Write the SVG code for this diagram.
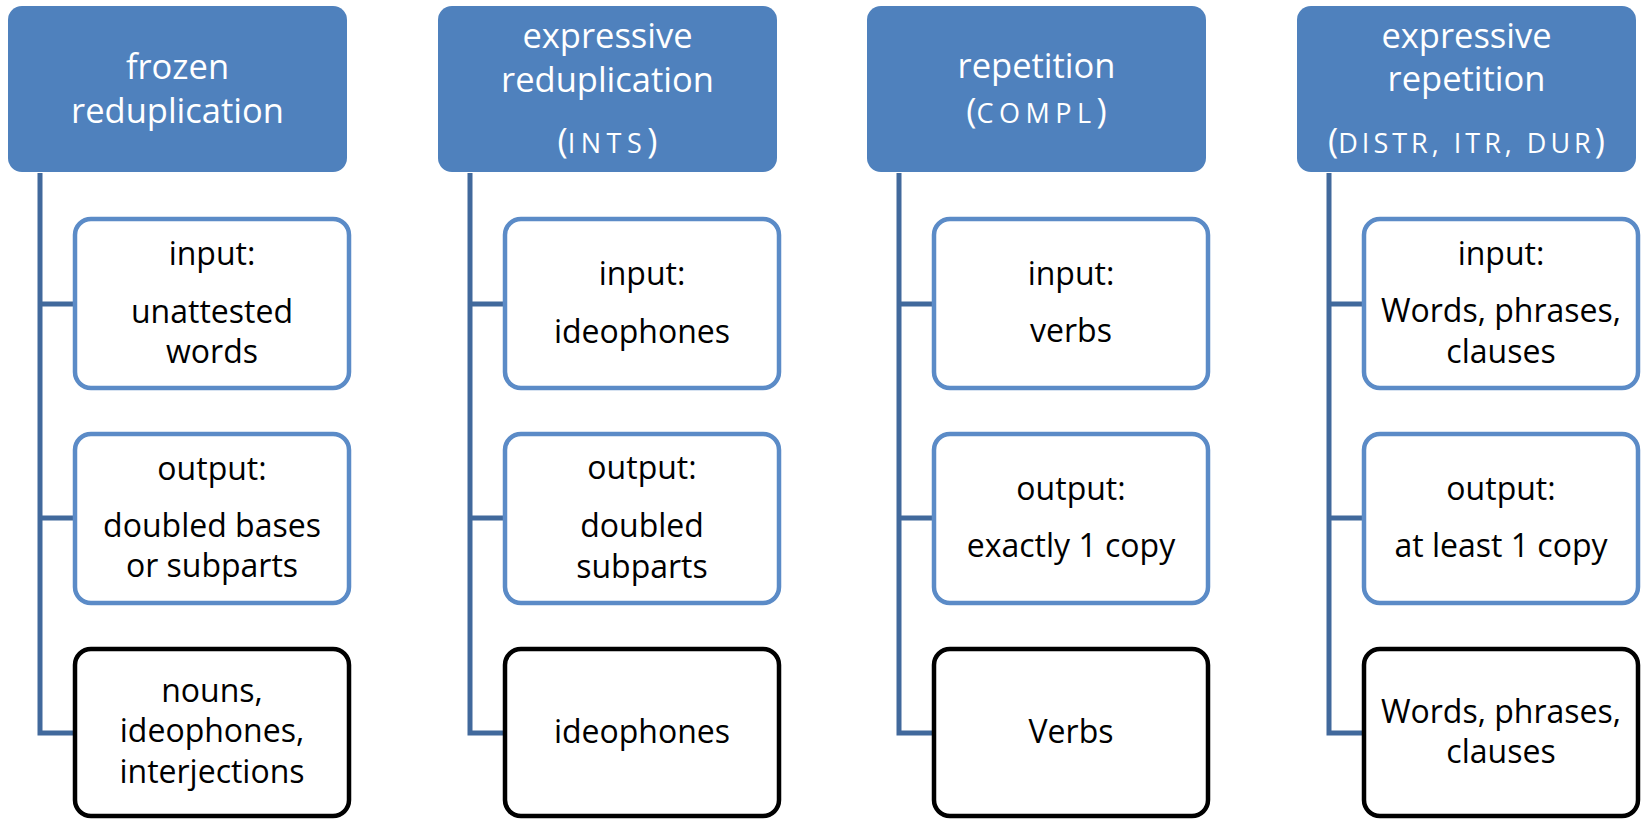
<svg xmlns="http://www.w3.org/2000/svg" width="1645" height="819" viewBox="0 0 1645 819">
<style>
.hdr{fill:#4F81BD}
.hdt{font-family:"Open Sans",sans-serif;font-size:34.5px;fill:#fff;text-anchor:middle}
.sc{font-size:27px;letter-spacing:4px}
.box{fill:#fff;stroke:#5B8BC7;stroke-width:4.5}
.blk{fill:#fff;stroke:#000;stroke-width:4.5}
.t{font-family:"Open Sans",sans-serif;font-size:32px;fill:#000;text-anchor:middle}
.con{fill:none;stroke:#41699C;stroke-width:5}
</style>
<rect width="1645" height="819" fill="#fff"/>
<g id="connectors">
<path class="con" d="M40 173 V733 H75 M40 304 H75 M40 518 H75"/>
<path class="con" d="M470 173 V733 H505 M470 304 H505 M470 518 H505"/>
<path class="con" d="M899 173 V733 H934 M899 304 H934 M899 518 H934"/>
<path class="con" d="M1329 173 V733 H1364 M1329 304 H1364 M1329 518 H1364"/>
</g>
<g id="h1"><rect class="hdr" x="8" y="6" width="339" height="166" rx="14"/>
<text class="hdt" x="177.5" y="79">frozen</text><text class="hdt" x="177.5" y="123">reduplication</text></g>
<g id="h2"><rect class="hdr" x="438" y="6" width="339" height="166" rx="14"/>
<text class="hdt" x="607.5" y="48">expressive</text><text class="hdt" x="607.5" y="92">reduplication</text>
<text class="hdt" x="607.5" y="153">(<tspan class="sc" style="letter-spacing:5.5px">INTS</tspan>)</text></g>
<g id="h3"><rect class="hdr" x="867" y="6" width="339" height="166" rx="14"/>
<text class="hdt" x="1036.5" y="78">repetition</text>
<text class="hdt" x="1036.5" y="123">(<tspan class="sc" style="letter-spacing:5.5px">COMPL</tspan>)</text></g>
<g id="h4"><rect class="hdr" x="1297" y="6" width="339" height="166" rx="14"/>
<text class="hdt" x="1466.5" y="48">expressive</text><text class="hdt" x="1466.5" y="91">repetition</text>
<text class="hdt" x="1466.5" y="153">(<tspan class="sc">DISTR, ITR, DUR</tspan>)</text></g>

<g id="c1in"><rect class="box" x="75" y="219" width="274" height="169" rx="16"/>
<text class="t" x="212" y="265">input:</text><text class="t" x="212" y="323">unattested</text><text class="t" x="212" y="363">words</text></g>
<g id="c1out"><rect class="box" x="75" y="434" width="274" height="169" rx="16"/>
<text class="t" x="212" y="480">output:</text><text class="t" x="212" y="537">doubled bases</text><text class="t" x="212" y="577">or subparts</text></g>
<g id="c1ex"><rect class="blk" x="75" y="649" width="274" height="167" rx="16"/>
<text class="t" x="212" y="702">nouns,</text><text class="t" x="212" y="742">ideophones,</text><text class="t" x="212" y="783">interjections</text></g>

<g id="c2in"><rect class="box" x="505" y="219" width="274" height="169" rx="16"/>
<text class="t" x="642" y="285">input:</text><text class="t" x="642" y="343">ideophones</text></g>
<g id="c2out"><rect class="box" x="505" y="434" width="274" height="169" rx="16"/>
<text class="t" x="642" y="479">output:</text><text class="t" x="642" y="537">doubled</text><text class="t" x="642" y="578">subparts</text></g>
<g id="c2ex"><rect class="blk" x="505" y="649" width="274" height="167" rx="16"/>
<text class="t" x="642" y="743">ideophones</text></g>

<g id="c3in"><rect class="box" x="934" y="219" width="274" height="169" rx="16"/>
<text class="t" x="1071" y="285">input:</text><text class="t" x="1071" y="342">verbs</text></g>
<g id="c3out"><rect class="box" x="934" y="434" width="274" height="169" rx="16"/>
<text class="t" x="1071" y="500">output:</text><text class="t" x="1071" y="557">exactly 1 copy</text></g>
<g id="c3ex"><rect class="blk" x="934" y="649" width="274" height="167" rx="16"/>
<text class="t" x="1071" y="743">Verbs</text></g>

<g id="c4in"><rect class="box" x="1364" y="219" width="274" height="169" rx="16"/>
<text class="t" x="1501" y="265">input:</text><text class="t" x="1501" y="322">Words, phrases,</text><text class="t" x="1501" y="363">clauses</text></g>
<g id="c4out"><rect class="box" x="1364" y="434" width="274" height="169" rx="16"/>
<text class="t" x="1501" y="500">output:</text><text class="t" x="1501" y="557">at least 1 copy</text></g>
<g id="c4ex"><rect class="blk" x="1364" y="649" width="274" height="167" rx="16"/>
<text class="t" x="1501" y="723">Words, phrases,</text><text class="t" x="1501" y="763">clauses</text></g>
</svg>
